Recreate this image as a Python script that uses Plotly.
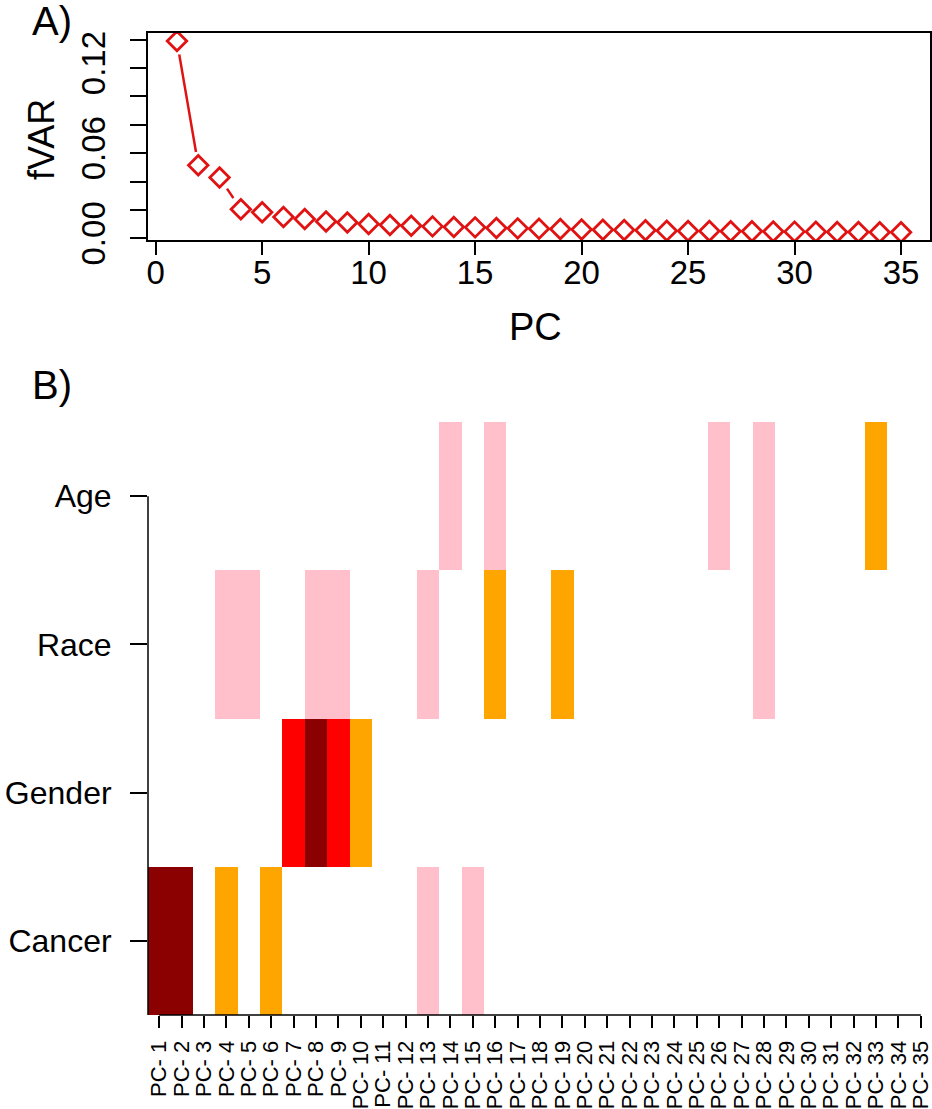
import plotly.graph_objects as go

# ---- Panel A: fraction of variance per principal component ----
pc_index = list(range(1, 36))
fvar = [0.1390, 0.0515, 0.0428, 0.0205, 0.0183, 0.0150, 0.0136, 0.0118, 0.0112, 0.0101,
        0.0093, 0.0088, 0.0084, 0.0080, 0.0077, 0.0073, 0.0070, 0.0068, 0.0065, 0.0062,
        0.0060, 0.0058, 0.0056, 0.0054, 0.0052, 0.0051, 0.0050, 0.0049, 0.0048, 0.0047,
        0.0046, 0.0045, 0.0044, 0.0043, 0.0042]
fvar_ticks = [0.00, 0.02, 0.04, 0.06, 0.08, 0.10, 0.12, 0.14]
fvar_ticktext = ["0.00", "", "", "0.06", "", "", "0.12", ""]
pc_ticks = [0, 5, 10, 15, 20, 25, 30, 35]

# ---- Panel B: association level of each covariate with each PC ----
# 0 = none, 1 = weak, 2 = moderate, 3 = strong, 4 = very strong
pc_labels = [f"PC- {i}" for i in range(1, 36)]
covariates = ["Cancer", "Gender", "Race", "Age"]
cancer = [4, 4, 0, 2, 0, 2, 0, 0, 0, 0, 0, 0, 1, 0, 1, 0, 0, 0, 0, 0,
          0, 0, 0, 0, 0, 0, 0, 0, 0, 0, 0, 0, 0, 0, 0]
gender = [0, 0, 0, 0, 0, 0, 3, 4, 3, 2, 0, 0, 0, 0, 0, 0, 0, 0, 0, 0,
          0, 0, 0, 0, 0, 0, 0, 0, 0, 0, 0, 0, 0, 0, 0]
race = [0, 0, 0, 1, 1, 0, 0, 1, 1, 0, 0, 0, 1, 0, 0, 2, 0, 0, 2, 0,
        0, 0, 0, 0, 0, 0, 0, 1, 0, 0, 0, 0, 0, 0, 0]
age = [0, 0, 0, 0, 0, 0, 0, 0, 0, 0, 0, 0, 0, 1, 0, 1, 0, 0, 0, 0,
       0, 0, 0, 0, 0, 1, 0, 1, 0, 0, 0, 0, 2, 0, 0]
level_colors = ["#FFFFFF", "#FFC0CB", "#FFA500", "#FF0000", "#8B0000"]

W, H = 932, 1109
RED = "#E01212"
FONT = "Liberation Sans, Arial, sans-serif"


def px_x(x):
    return x / W


def px_y(y):
    return 1 - y / H


# discrete colour scale over levels 0..4
n = len(level_colors)
colorscale = []
for i, c in enumerate(level_colors):
    colorscale.append([i / n, c])
    colorscale.append([(i + 1) / n, c])

fig = go.Figure()

# line joining the points
fig.add_trace(go.Scatter(x=pc_index, y=fvar, mode="lines",
                         line=dict(color=RED, width=2.5),
                         xaxis="x", yaxis="y", hoverinfo="skip"))
# white halo so the line stops short of each point
fig.add_trace(go.Scatter(x=pc_index, y=fvar, mode="markers",
                         marker=dict(symbol="circle", size=27, color="white"),
                         xaxis="x", yaxis="y", hoverinfo="skip"))
fig.add_trace(go.Scatter(x=pc_index, y=fvar, mode="markers",
                         marker=dict(symbol="diamond", size=15, color="white",
                                     line=dict(color=RED, width=2.8)),
                         xaxis="x", yaxis="y"))

fig.add_trace(go.Heatmap(z=[cancer, gender, race, age], x=pc_labels, y=covariates,
                         colorscale=colorscale, zmin=-0.5, zmax=4.5,
                         showscale=False, xaxis="x2", yaxis="y2"))


def axis_style(size):
    return dict(showgrid=False, zeroline=False, ticks="outside",
                tickcolor="black", tickwidth=1.5, automargin=False,
                tickfont=dict(family=FONT, size=size, color="black"))


fig.update_layout(
    width=W, height=H,
    margin=dict(l=0, r=0, t=0, b=0),
    paper_bgcolor="white", plot_bgcolor="white",
    showlegend=False,
    font=dict(family=FONT, color="black"),
    xaxis=dict(domain=[px_x(148), px_x(930)], range=[-0.36, 36.36],
               tickvals=pc_ticks, ticklen=13, ticklabelstandoff=-10,
               showline=True, mirror=True, linecolor="black", linewidth=1.5,
               anchor="y", **axis_style(33)),
    yaxis=dict(domain=[px_y(240), px_y(33)], range=[-0.0012, 0.1447],
               tickvals=fvar_ticks, ticktext=fvar_ticktext, tickangle=-90,
               ticklen=16, ticklabelstandoff=12,
               showline=True, mirror=True, linecolor="black", linewidth=1.5,
               anchor="x", **axis_style(33)),
    xaxis2=dict(domain=[px_x(148), 1.0], range=[-0.5, 34.5], type="category",
                tickmode="array", tickvals=pc_labels,
                tickangle=-90, ticklen=12, ticklabelstandoff=4,
                showline=False, anchor="y2", **axis_style(22)),
    yaxis2=dict(domain=[px_y(1015), px_y(422)], range=[-0.5, 3.5], type="category",
                ticklen=17, ticklabelstandoff=12, showline=False, anchor="x2",
                **axis_style(32)),
    shapes=[
        # bottom axis line of panel B, from first to last tick
        dict(type="line", xref="x2", yref="paper", x0=0, x1=34,
             y0=px_y(1015), y1=px_y(1015), line=dict(color="black", width=1.5)),
        # left axis line of panel B
        dict(type="line", xref="paper", yref="y2", x0=px_x(148), x1=px_x(148),
             y0=-0.5, y1=3, line=dict(color="black", width=1.5)),
    ],
    annotations=[
        dict(text="A)", x=px_x(52), y=px_y(21), xref="paper", yref="paper",
             xanchor="center", yanchor="middle",
             showarrow=False, font=dict(family=FONT, size=40)),
        dict(text="B)", x=px_x(52), y=px_y(385), xref="paper", yref="paper",
             xanchor="center", yanchor="middle",
             showarrow=False, font=dict(family=FONT, size=40)),
        dict(text="PC", x=px_x(535), y=px_y(327), xref="paper", yref="paper",
             xanchor="center", yanchor="middle",
             showarrow=False, font=dict(family=FONT, size=38)),
        dict(text="fVAR", x=px_x(42), y=px_y(140), xref="paper", yref="paper",
             xanchor="center", yanchor="middle", textangle=-90,
             showarrow=False, font=dict(family=FONT, size=36)),
    ],
)

fig.write_html("out.html")
